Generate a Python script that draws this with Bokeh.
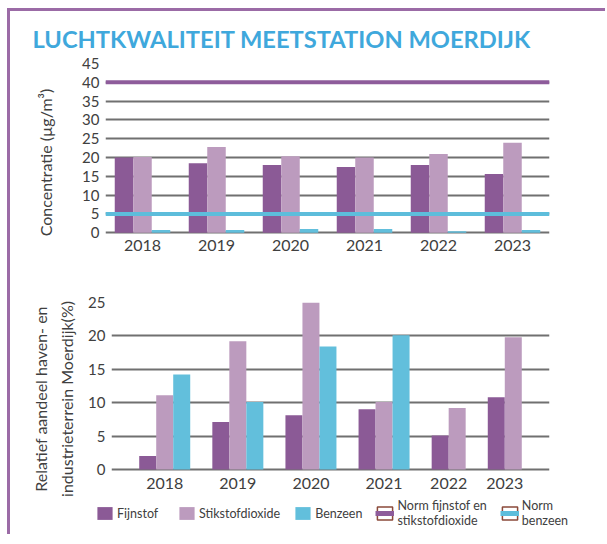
from bokeh.plotting import figure
from bokeh.models import (ColumnDataSource, FactorRange, Span, Legend, LegendItem,
                          FixedTicker, LinearAxis)
from bokeh.layouts import column
from bokeh.embed import file_html
from bokeh.resources import INLINE
from bokeh.core.properties import value

years = ["2018", "2019", "2020", "2021", "2022", "2023"]
series = ["Fijnstof", "Stikstofdioxide", "Benzeen"]

# Concentratie (µg/m³)
conc_fijnstof = [20.0, 18.5, 18.0, 17.5, 18.0, 15.6]
conc_stikstof = [20.1, 22.8, 20.3, 20.0, 20.9, 23.9]
conc_benzeen = [0.7, 0.7, 1.0, 1.0, 0.4, 0.7]
norm_fijnstof_stikstof = 40
norm_benzeen = 5

# Relatief aandeel haven- en industrieterrein Moerdijk (%)
share_fijnstof = [2.0, 7.1, 8.1, 9.0, 5.1, 10.8]
share_stikstof = [11.1, 19.2, 25.0, 10.1, 9.2, 19.8]
share_benzeen = [14.2, 10.1, 18.4, 20.1, None, None]

conc_ticks = [0, 5, 10, 15, 20, 25, 30, 35, 40, 45]
share_ticks = [0, 5, 10, 15, 20, 25]

colors = ["#8B5A96", "#BC9BBE", "#62BFDC"]
NORM_PURPLE = "#8E5C9B"
NORM_BLUE = "#5DBDDB"
GRID = "#707070"
TXT = "#404040"
FONT = "Lato"
W = 595


def factors_for(vals_by_series):
    f = []
    for i, y in enumerate(years):
        for s, vals in zip(series, vals_by_series):
            if vals[i] is not None:
                f.append((y, s))
    return f


def source_for(s, vals):
    xs, tops = [], []
    for i, y in enumerate(years):
        if vals[i] is not None:
            xs.append((y, s))
            tops.append(vals[i])
    return ColumnDataSource(dict(x=xs, top=tops))


def style(p, ticks, label_offset):
    p.frame_align = False
    p.background_fill_color = None
    p.border_fill_color = None
    p.outline_line_color = None
    p.xgrid.grid_line_color = None
    p.ygrid.grid_line_color = GRID
    p.ygrid.grid_line_width = 2
    p.yaxis.ticker = FixedTicker(ticks=ticks)
    p.yaxis.axis_line_color = None
    p.yaxis.major_tick_line_color = None
    p.yaxis.minor_tick_line_color = None
    p.yaxis.major_tick_out = 0
    p.yaxis.major_label_standoff = 6
    p.yaxis.major_label_text_font = FONT
    p.yaxis.major_label_text_font_size = "15px"
    p.yaxis.major_label_text_color = TXT
    p.yaxis.axis_label_text_font = FONT
    p.yaxis.axis_label_text_font_size = "16px"
    p.yaxis.axis_label_text_font_style = "normal"
    p.yaxis.axis_label_text_color = TXT
    p.xaxis.visible = False
    # year labels placed at the centre of each group of bars
    p.text(x="x", y="y", text="x",
           source=ColumnDataSource(dict(x=years, y=[0] * len(years))),
           text_font=value(FONT), text_font_size="16px", text_color=TXT,
           text_align="center", text_baseline="middle", y_offset=label_offset)


# ---------- top chart ----------
conc_vals = [conc_fijnstof, conc_stikstof, conc_benzeen]
f1 = figure(
    x_range=FactorRange(*factors_for(conc_vals), group_padding=1.0,
                        range_padding=0.5, range_padding_units="absolute"),
    y_range=(-6.6, 45), width=W, height=251,
    output_backend="svg", toolbar_location=None,
    min_border_left=95, min_border_right=56, min_border_top=52, min_border_bottom=5,
    title="LUCHTKWALITEIT MEETSTATION MOERDIJK",
)
style(f1, conc_ticks, 13)
f1.yaxis.axis_label = "Concentratie  (µg/m³)"
f1.yaxis.axis_label_standoff = 24
f1.title.text_font = FONT
f1.title.text_font_size = "23.7px"
f1.title.text_font_style = "bold"
f1.title.text_color = "#3FA8DC"
f1.title.offset = -73
f1.title.standoff = 22

for s, vals, c in zip(series, conc_vals, colors):
    f1.vbar(x="x", top="top", bottom=0, width=1.0, source=source_for(s, vals),
            fill_color=c, line_color=None)
f1.add_layout(Span(location=norm_fijnstof_stikstof, dimension="width",
                   line_color=NORM_PURPLE, line_width=4))
f1.add_layout(Span(location=norm_benzeen, dimension="width",
                   line_color=NORM_BLUE, line_width=4))

# ---------- bottom chart ----------
share_vals = [share_fijnstof, share_stikstof, share_benzeen]
f2 = figure(
    x_range=FactorRange(*factors_for(share_vals), group_padding=1.3,
                        range_padding=1.63, range_padding_units="absolute"),
    y_range=(-3.9, 25), width=W, height=236,
    output_backend="svg", toolbar_location=None,
    min_border_left=101, min_border_right=56, min_border_top=40, min_border_bottom=3,
)
style(f2, share_ticks, 14)
f2.yaxis.axis_label = "industrieterrein Moerdijk(%)"
f2.yaxis.axis_label_standoff = 9
outer = LinearAxis(axis_label="Relatief aandeel haven- en", ticker=FixedTicker(ticks=[]),
                   axis_line_color=None, major_tick_line_color=None, minor_tick_line_color=None,
                   major_tick_out=0, major_label_standoff=0, axis_label_standoff=5,
                   axis_label_text_font=FONT, axis_label_text_font_size="16px",
                   axis_label_text_font_style="normal", axis_label_text_color=TXT)
f2.add_layout(outer, "left")

for s, vals, c in zip(series, share_vals, colors):
    f2.vbar(x="x", top="top", bottom=0, width=1.0, source=source_for(s, vals),
            fill_color=c, line_color=None)

# ---------- legend ----------
fl = figure(width=W, height=36, x_range=(0, 1), y_range=(0, 1),
            output_backend="svg", toolbar_location=None, min_border=0)
fl.frame_align = False
fl.axis.visible = False
fl.grid.visible = False
fl.outline_line_color = None
fl.background_fill_color = None
fl.border_fill_color = None

# legend-only renderers, placed outside the visible range
items = []
for s, c in zip(series, colors):
    r = fl.vbar(x="x", top="top", bottom=-9, width=1,
                source=ColumnDataSource(dict(x=[-9], top=[-8])),
                fill_color=c, line_color=None)
    items.append(LegendItem(label=s, renderers=[r]))
for lab, col in [("Norm fijnstof en\nstikstofdioxide", NORM_PURPLE), ("Norm\nbenzeen", NORM_BLUE)]:
    box = fl.rect(x="x", y="y", width=1, height=1,
                  source=ColumnDataSource(dict(x=[-9], y=[-9])),
                  fill_color="white", line_color="#8B4A3A", line_width=1.5)
    ln = fl.line(x="x", y="y", source=ColumnDataSource(dict(x=[-9, -8], y=[-9, -9])),
                 line_color=col, line_width=5)
    items.append(LegendItem(label=lab, renderers=[box, ln]))

legend = Legend(items=items, orientation="horizontal", location=(85, 6),
                glyph_width=19, glyph_height=16, label_standoff=3, spacing=13,
                label_width=47,
                label_text_font=FONT, label_text_font_size="12.5px",
                label_text_color=TXT, label_text_line_height=0.9,
                border_line_color=None, background_fill_alpha=0, padding=0, margin=0)
fl.add_layout(legend)

layout = column(f1, f2, fl, spacing=0, margin=(8, 0, 0, 7),
                styles={"border-top": "3px solid #9B6BA6", "border-left": "3px solid #9B6BA6"})

open("out.html", "w").write(file_html(layout, INLINE))
